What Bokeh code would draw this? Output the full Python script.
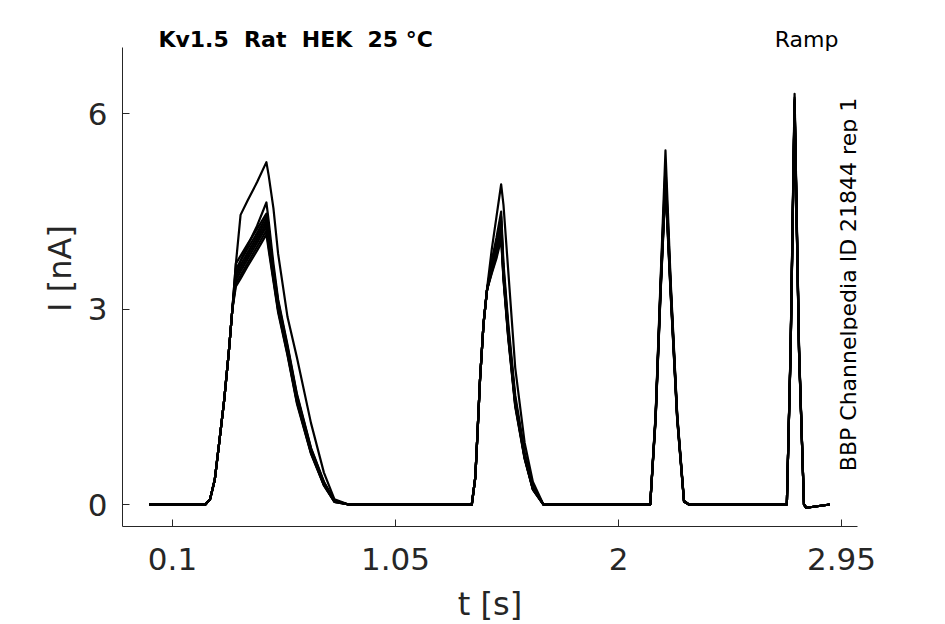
import math
from bokeh.plotting import figure
from bokeh.models import Range1d, FixedTicker, CustomJSTickFormatter, Label
from bokeh.embed import file_html
from bokeh.resources import INLINE

# time axis [s]
t_s = [0.00, 0.24, 0.26, 0.28, 0.30, 0.32, 0.34, 0.355, 0.37, 0.39, 0.42, 0.46, 0.50, 0.51, 0.53, 0.55, 0.59, 0.63, 0.69, 0.745, 0.79, 0.85,
       1.375, 1.39, 1.40, 1.41, 1.425, 1.44, 1.46, 1.48, 1.50, 1.51, 1.53, 1.56, 1.60, 1.635, 1.68,
       2.135, 2.158, 2.179, 2.20, 2.222, 2.25, 2.279, 2.30,
       2.717, 2.733, 2.75, 2.769, 2.79, 2.80, 2.90]

# current sweeps [nA]
sweep_1 = [0, 0, 0.08, 0.38, 0.98, 1.6, 2.35, 3.0, 3.7, 4.45, 4.67, 4.95, 5.26, 5.05, 4.55, 3.85, 2.88, 2.26, 1.25, 0.49, 0.08, 0,
           0, 0.42, 1.15, 1.92, 2.78, 3.32, 3.92, 4.42, 4.92, 4.6, 3.6, 2.1, 0.95, 0.35, 0,
           0, 1.39, 3.44, 5.44, 3.44, 1.39, 0.06, 0,
           0, 2.42, 6.31, 2.42, 0, -0.05, 0]
sweep_2 = [0, 0, 0.08, 0.38, 0.98, 1.6, 2.35, 3.0, 3.5, 3.75, 3.98, 4.28, 4.64, 4.35, 3.7, 3.15, 2.45, 1.7, 0.87, 0.35, 0.06, 0,
           0, 0.42, 1.15, 1.92, 2.78, 3.3, 3.75, 4.1, 4.5, 3.7, 2.8, 1.68, 0.8, 0.28, 0,
           0, 1.37, 3.38, 5.2, 3.38, 1.37, 0.06, 0,
           0, 2.4, 6.25, 2.4, 0, -0.05, 0]
sweep_3 = [0, 0, 0.08, 0.38, 0.98, 1.6, 2.35, 3.0, 3.7, 3.82, 4.0, 4.23, 4.47, 4.2, 3.62, 3.12, 2.42, 1.68, 0.86, 0.34, 0.06, 0,
           0, 0.42, 1.15, 1.92, 2.78, 3.3, 3.72, 4.02, 4.42, 3.62, 2.72, 1.62, 0.77, 0.27, 0,
           0, 1.36, 3.35, 5.12, 3.35, 1.36, 0.05, 0,
           0, 2.38, 6.22, 2.38, 0, -0.05, 0]
sweep_4 = [0, 0, 0.08, 0.38, 0.98, 1.6, 2.35, 3.0, 3.62, 3.74, 3.93, 4.17, 4.42, 4.15, 3.58, 3.09, 2.4, 1.65, 0.84, 0.33, 0.05, 0,
           0, 0.42, 1.15, 1.92, 2.78, 3.3, 3.68, 3.98, 4.35, 3.58, 2.69, 1.6, 0.76, 0.26, 0,
           0, 1.35, 3.33, 5.06, 3.33, 1.35, 0.05, 0,
           0, 2.37, 6.2, 2.37, 0, -0.05, 0]
sweep_5 = [0, 0, 0.08, 0.38, 0.98, 1.6, 2.35, 3.0, 3.55, 3.68, 3.87, 4.12, 4.37, 4.1, 3.55, 3.06, 2.37, 1.63, 0.82, 0.32, 0.05, 0,
           0, 0.42, 1.15, 1.92, 2.78, 3.3, 3.65, 3.95, 4.3, 3.55, 2.66, 1.58, 0.74, 0.25, 0,
           0, 1.34, 3.31, 5.02, 3.31, 1.34, 0.05, 0,
           0, 2.36, 6.18, 2.36, 0, -0.05, 0]
sweep_6 = [0, 0, 0.08, 0.38, 0.98, 1.6, 2.35, 3.0, 3.5, 3.63, 3.82, 4.07, 4.32, 4.05, 3.52, 3.03, 2.35, 1.61, 0.81, 0.31, 0.05, 0,
           0, 0.42, 1.15, 1.92, 2.78, 3.3, 3.62, 3.9, 4.24, 3.52, 2.63, 1.56, 0.73, 0.24, 0,
           0, 1.33, 3.29, 4.98, 3.29, 1.33, 0.05, 0,
           0, 2.35, 6.16, 2.35, 0, -0.05, 0]
sweep_7 = [0, 0, 0.08, 0.38, 0.98, 1.6, 2.35, 3.0, 3.45, 3.58, 3.77, 4.02, 4.27, 4.0, 3.49, 3.0, 2.33, 1.59, 0.8, 0.3, 0.04, 0,
           0, 0.42, 1.15, 1.92, 2.78, 3.3, 3.6, 3.86, 4.18, 3.5, 2.6, 1.54, 0.72, 0.24, 0,
           0, 1.32, 3.27, 4.95, 3.27, 1.32, 0.04, 0,
           0, 2.34, 6.14, 2.34, 0, -0.05, 0]
sweep_8 = [0, 0, 0.08, 0.38, 0.98, 1.6, 2.35, 3.0, 3.4, 3.52, 3.71, 3.96, 4.21, 3.95, 3.46, 2.98, 2.31, 1.57, 0.79, 0.3, 0.04, 0,
           0, 0.42, 1.15, 1.92, 2.78, 3.3, 3.57, 3.82, 4.12, 3.47, 2.58, 1.52, 0.71, 0.23, 0,
           0, 1.31, 3.25, 4.92, 3.25, 1.31, 0.04, 0,
           0, 2.33, 6.12, 2.33, 0, -0.05, 0]
sweep_9 = [0, 0, 0.08, 0.38, 0.98, 1.6, 2.35, 3.0, 3.35, 3.47, 3.66, 3.9, 4.15, 3.9, 3.43, 2.95, 2.29, 1.55, 0.78, 0.29, 0.04, 0,
           0, 0.42, 1.15, 1.92, 2.78, 3.3, 3.55, 3.78, 4.08, 3.45, 2.56, 1.5, 0.7, 0.23, 0,
           0, 1.3, 3.23, 4.88, 3.23, 1.3, 0.04, 0,
           0, 2.32, 6.1, 2.32, 0, -0.05, 0]

sweeps = [sweep_1, sweep_2, sweep_3, sweep_4, sweep_5, sweep_6, sweep_7, sweep_8, sweep_9]

x_ticks = [0.1, 1.05, 2, 2.95]
y_ticks = [0, 3, 6]

title_text = "Kv1.5 \u00a0Rat \u00a0HEK \u00a025 °C"
protocol_text = "Ramp"
source_text = "BBP Channelpedia ID 21844 rep 1"

FONT = "DejaVu Sans"
TXT = "#262626"

X_START, X_END = -0.113, 3.018
Y_START, Y_AXIS_TOP, Y_FRAME_TOP = -0.338, 7.02, 7.59
Y_TEXT = 7.14

p = figure(frame_width=735, frame_height=516,
           x_range=Range1d(X_START, X_END), y_range=Range1d(Y_START, Y_FRAME_TOP),
           output_backend="svg", toolbar_location=None,
           min_border_left=122, min_border_top=10, min_border_right=64, min_border_bottom=80)
p.xgrid.visible = False
p.ygrid.visible = False
p.outline_line_color = None
p.background_fill_color = "white"
p.border_fill_color = "white"

for s in sweeps:
    p.line(t_s, s, line_color="black", line_width=2.2, line_join="round")

for ax in (p.xaxis[0], p.yaxis[0]):
    ax.axis_line_color = TXT
    ax.axis_line_width = 1
    ax.major_tick_line_color = TXT
    ax.major_tick_in = 7
    ax.major_tick_out = 0
    ax.minor_tick_line_color = None
    ax.major_label_text_font = FONT
    ax.major_label_text_font_size = "31px"
    ax.major_label_text_color = TXT
    ax.axis_label_text_font = FONT
    ax.axis_label_text_font_size = "32px"
    ax.axis_label_text_font_style = "normal"
    ax.axis_label_text_color = TXT

p.yaxis.bounds = (Y_START, Y_AXIS_TOP)
p.xaxis.ticker = FixedTicker(ticks=x_ticks)
p.xaxis.formatter = CustomJSTickFormatter(code="return String(tick)")
p.yaxis.ticker = FixedTicker(ticks=y_ticks)
p.xaxis.axis_label = "t [s]"
p.yaxis.axis_label = "I [nA]"
p.xaxis.major_label_standoff = 21
p.yaxis.major_label_standoff = 15
p.xaxis.axis_label_standoff = 12
p.yaxis.axis_label_standoff = 6

p.add_layout(Label(x=0.040, y=Y_TEXT, text=title_text, text_font=FONT, text_font_style="bold",
                   text_font_size="22px", text_color="black", text_align="left", text_baseline="alphabetic"))
p.add_layout(Label(x=2.937, y=Y_TEXT, text=protocol_text, text_font=FONT,
                   text_font_size="22px", text_color="black", text_align="right", text_baseline="alphabetic"))
p.add_layout(Label(x=2.9815, y=3.38, text=source_text, text_font=FONT, angle=math.pi / 2,
                   text_font_size="22px", text_color="black", text_align="center", text_baseline="alphabetic"))

open("out.html", "w").write(file_html(p, INLINE))
